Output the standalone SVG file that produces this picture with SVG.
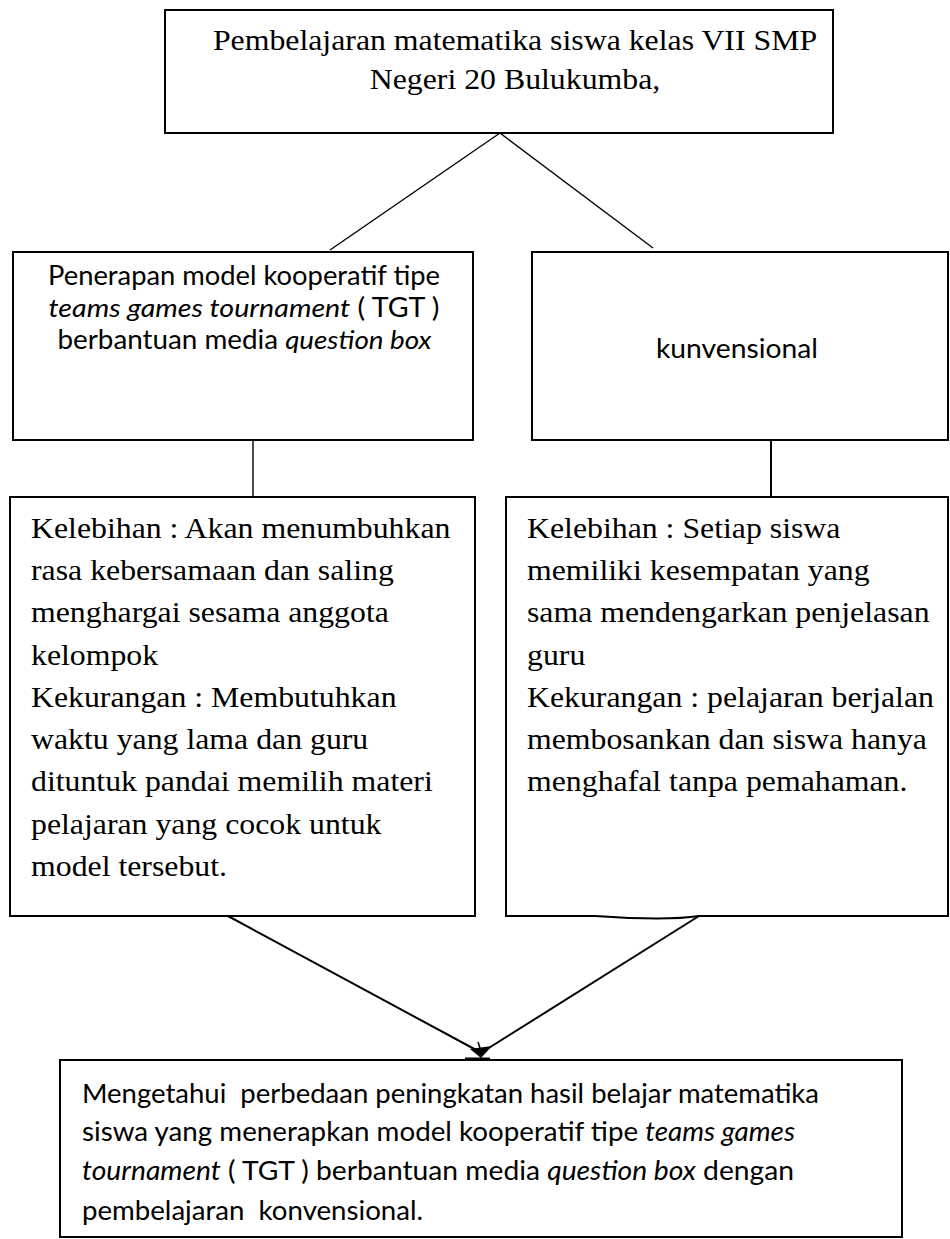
<svg xmlns="http://www.w3.org/2000/svg" width="950" height="1239" viewBox="0 0 950 1239">
<defs>
<style>
.box{fill:#fff;stroke:#000;stroke-width:2}
.ln{fill:none;stroke:#000;stroke-width:1.4}
.ar{fill:none;stroke:#000;stroke-width:2}
.serif{font-family:"Liberation Serif","Times New Roman",serif;font-size:30px;fill:#000;white-space:pre}
.sans{font-family:Lato,"Open Sans",sans-serif;font-size:27.5px;fill:#000;white-space:pre}
.sm{font-size:26px}
.it{font-style:italic}
</style>
</defs>
<rect width="950" height="1239" fill="#fff"/>
<g id="connectors">
<line class="ln" x1="500" y1="133" x2="330" y2="250"/>
<line class="ln" x1="500" y1="133" x2="653" y2="248"/>
<line class="ln" x1="253" y1="440" x2="253" y2="497"/>
<line class="ln" x1="771" y1="440" x2="771" y2="497" style="stroke-width:2"/>
<line class="ar" x1="228" y1="916" x2="478" y2="1051"/>
<line class="ar" x1="699" y1="916" x2="484" y2="1051"/>
<polygon points="470,1049 492,1046 481,1058" fill="#000"/>
<line x1="478" y1="1042" x2="482" y2="1054" stroke="#000" stroke-width="1.5"/>
<line x1="465" y1="1059" x2="490" y2="1059" stroke="#000" stroke-width="3"/>
</g>
<g id="top">
<rect class="box" x="165" y="10" width="668" height="123"/>
<g transform="translate(515,0) scale(1.06,1)">
<text class="serif" x="0" y="50" text-anchor="middle">Pembelajaran matematika siswa kelas VII SMP</text>
<text class="serif" x="0" y="89" text-anchor="middle">Negeri 20 Bulukumba,</text>
</g>
</g>
<g id="tgt">
<rect class="box" x="13" y="252" width="460" height="188"/>
<text class="sans sm" x="48" y="285" textLength="392" lengthAdjust="spacingAndGlyphs">Penerapan model kooperatif tipe</text>
<text class="sans sm" x="48.5" y="317" textLength="391" lengthAdjust="spacingAndGlyphs"><tspan class="it">teams games tournament</tspan> ( TGT )</text>
<text class="sans sm" x="57.5" y="349" textLength="374" lengthAdjust="spacingAndGlyphs">berbantuan media <tspan class="it">question box</tspan></text>
</g>
<g id="konv">
<rect class="box" x="532" y="252" width="416" height="188"/>
<text class="sans sm" x="656" y="358" textLength="162" lengthAdjust="spacingAndGlyphs">kunvensional</text>
</g>
<g id="kelebihan-tgt">
<rect class="box" x="10" y="497" width="465" height="419"/>
<g transform="translate(31,0) scale(1.06,1)">
<text class="serif" x="0" y="538">Kelebihan : Akan menumbuhkan</text>
<text class="serif" x="0" y="580.25">rasa kebersamaan dan saling</text>
<text class="serif" x="0" y="622.5">menghargai sesama anggota</text>
<text class="serif" x="0" y="664.75">kelompok</text>
<text class="serif" x="0" y="707">Kekurangan : Membutuhkan</text>
<text class="serif" x="0" y="749.25">waktu yang lama dan guru</text>
<text class="serif" x="0" y="791.5">dituntuk pandai memilih materi</text>
<text class="serif" x="0" y="833.75">pelajaran yang cocok untuk</text>
<text class="serif" x="0" y="876">model tersebut.</text>
</g>
</g>
<g id="kelebihan-konv">
<path class="box" d="M506,497 H948 V916 H699 Q667,921 595,916 H506 Z"/>
<g transform="translate(527,0) scale(1.06,1)">
<text class="serif" x="0" y="538">Kelebihan : Setiap siswa</text>
<text class="serif" x="0" y="580.25">memiliki kesempatan yang</text>
<text class="serif" x="0" y="622.5">sama mendengarkan penjelasan</text>
<text class="serif" x="0" y="664.75">guru</text>
<text class="serif" x="0" y="707">Kekurangan : pelajaran berjalan</text>
<text class="serif" x="0" y="749.25">membosankan dan siswa hanya</text>
<text class="serif" x="0" y="791.5">menghafal tanpa pemahaman.</text>
</g>
</g>
<g id="tujuan">
<rect class="box" x="60" y="1060" width="842" height="177"/>
<text class="sans" x="82" y="1103" textLength="737" lengthAdjust="spacingAndGlyphs">Mengetahui  perbedaan peningkatan hasil belajar matematika</text>
<text class="sans" x="82" y="1141" textLength="713" lengthAdjust="spacingAndGlyphs">siswa yang menerapkan model kooperatif tipe <tspan class="it">teams games</tspan></text>
<text class="sans" x="82" y="1180" textLength="712" lengthAdjust="spacingAndGlyphs"><tspan class="it">tournament</tspan> ( TGT ) berbantuan media <tspan class="it">question box</tspan> dengan</text>
<text class="sans" x="82" y="1220" textLength="341" lengthAdjust="spacingAndGlyphs">pembelajaran  konvensional.</text>
</g>
</svg>
